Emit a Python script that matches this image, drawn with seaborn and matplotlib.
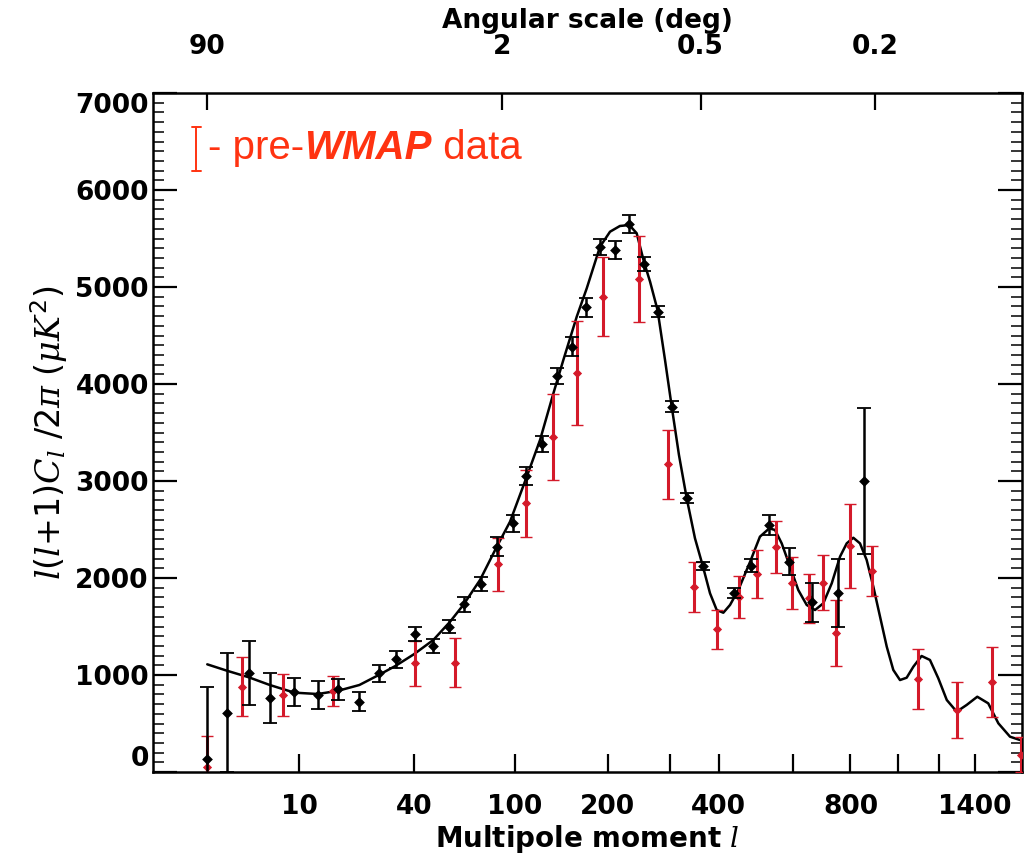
import numpy as np
import matplotlib
matplotlib.use("Agg")
import matplotlib.pyplot as plt
import seaborn as sns
from matplotlib.lines import Line2D
from matplotlib.ticker import MultipleLocator, NullLocator

# ---------------- data ----------------
# WMAP binned points
wmap_l = [2, 3, 4.5, 6.4, 9.35, 13, 16.9, 21.9, 27.5, 33.2, 40.3, 48.3, 56.3, 65,
          75.4, 86.7, 98.5, 109.6, 124.5, 139.5, 155.1, 171.5, 189.5, 210, 231,
          254.2, 277.4, 302.6, 331.5, 364.6, 436.4, 479.7, 529.6, 587.7, 660.5,
          752, 853.5]
wmap_v = [131, 611, 1017, 766, 828, 794, 852, 725, 1017, 1162, 1423, 1299, 1498, 1728,
          1938, 2323, 2564, 3052, 3378, 4082, 4385, 4790, 5415, 5381, 5649,
          5237, 4745, 3766, 2821, 2127, 1842, 2127, 2546, 2168, 1749,
          1842, 3000]
wmap_err = [750, 613, 330, 256, 146, 141, 107, 100, 90, 86, 74, 68, 69, 78,
            76, 97, 89, 89, 81, 80, 95, 95, 81, 90, 95,
            72, 59, 59, 52, 43, 52, 69, 100, 138, 203,
            352, 750]

# pre-WMAP points
pre_l = [2, 3.96, 7.93, 15.8, 40.3, 59.7, 87, 109.6, 134.7, 160.8, 193.9, 246.6,
         296.4, 347, 395.5, 448.8, 496.4, 548.8, 598, 652.5, 700, 747, 798,
         887.5, 1093, 1299, 1501, 1690]
pre_v = [52, 880, 794, 835, 1121, 1127, 2141, 2770, 3457, 4117, 4900, 5082,
         3172, 1910, 1471, 1807, 2041, 2316, 1952, 1790, 1952, 1430, 2330,
         2072, 959, 639, 931, 180]
pre_err = [320, 306, 215, 150, 230, 253, 276, 344, 443, 536, 409, 439,
           356, 258, 203, 215, 250, 268, 267, 255, 284, 340, 430,
           258, 310, 292, 361, 180]

# best-fit model curve
model_l = [2, 3, 4.5, 6.4, 9.35, 13, 17, 22, 27.5, 33, 40, 48.6, 57, 64.4, 74.7,
           86.3, 96.3, 110.2, 122.3, 135.4, 145.8, 160.8, 172.7, 189.5, 203, 217,
           231, 242.4, 254, 264.2, 277, 290.3, 302.6, 316.3, 331.5, 348.3, 364.6,
           380.5, 395.5, 410.8, 426.7, 447, 477.3, 503.5, 529.6, 546, 565.6, 590.8,
           616.6, 643.8, 671.6, 700, 730, 760.3, 785.5, 810.9, 837.3, 864.3, 892,
           920.4, 949.5, 978.6, 1009, 1040, 1072, 1112, 1154, 1197, 1242, 1296,
           1352, 1414, 1480, 1543, 1618, 1684]
model_v = [1110, 1044, 976, 897, 818, 804, 838, 897, 1000, 1093, 1213, 1361, 1549,
           1722, 1979, 2323, 2580, 3044, 3423, 3904, 4247, 4694, 4986, 5415, 5570,
           5629, 5639, 5554, 5261, 5055, 4763, 4247, 3766, 3268, 2821, 2409, 2127,
           1842, 1670, 1642, 1722, 1876, 2168, 2426, 2512, 2495, 2357, 2117, 1876,
           1722, 1670, 1739, 1945, 2220, 2357, 2415, 2357, 2186, 1910, 1601, 1292,
           1052, 948, 972, 1086, 1196, 1155, 966, 742, 622, 691, 776, 708, 502,
           364, 330]

bottom_ticks = [10, 40, 100, 200, 300, 400, 600, 800, 1000, 1200, 1400]
bottom_labels = ["10", "40", "100", "200", "", "400", "", "800", "", "", "1400"]
top_deg = [90, 2, 0.5, 0.2]
top_labels = ["90", "2", "0.5", "0.2"]
y_ticks = [0, 1000, 2000, 3000, 4000, 5000, 6000, 7000]

# ---------------- style ----------------
sns.set_theme(style="white")
plt.rcParams["font.family"] = ["DejaVu Sans"]
plt.rcParams["mathtext.fontset"] = "custom"
plt.rcParams["mathtext.rm"] = "DejaVu Sans"
plt.rcParams["mathtext.it"] = "DejaVu Serif:italic"
plt.rcParams["mathtext.bf"] = "DejaVu Sans:bold"
plt.rcParams["text.color"] = "black"
plt.rcParams["axes.labelcolor"] = "black"

RED = "#d41a2a"
LEG_RED = "#ff3311"

fig = plt.figure(figsize=(10.30, 8.57), dpi=100)
W, H = 1030, 857
ax = fig.add_axes([153 / W, 1 - 772 / H, (1022 - 153) / W, (772 - 93) / H])
ax.set_facecolor("white")

fwd = lambda x: np.power(np.clip(x, 1e-9, None), 0.25)
inv = lambda y: np.power(np.clip(y, 0, None), 4)

# model curve
sns.lineplot(x=model_l, y=model_v, ax=ax, color="black", lw=1.8, sort=False,
             estimator=None, zorder=2)
# pre-WMAP
ax.errorbar(pre_l, pre_v, yerr=pre_err, fmt="none", ecolor=RED, elinewidth=2.2,
            capsize=4, capthick=1.0, zorder=3)
sns.scatterplot(x=pre_l, y=pre_v, ax=ax, color=RED, marker="D", s=22,
                edgecolor=RED, linewidth=0, zorder=4)
# WMAP
ax.errorbar(wmap_l, wmap_v, yerr=wmap_err, fmt="none", ecolor="black",
            elinewidth=1.8, capsize=5, capthick=1.3, zorder=5)
sns.scatterplot(x=wmap_l, y=wmap_v, ax=ax, color="black", marker="D", s=30,
                edgecolor="black", linewidth=0, zorder=6)

ax.set_xscale("function", functions=(fwd, inv))
ax.set_xlim(0.5, 1698)
ax.set_ylim(0, 7000)

# top axis
ax2 = ax.twiny()
ax2.set_xscale("function", functions=(fwd, inv))
ax2.set_xlim(0.5, 1698)
ax2.set_xticks([180.0 / d for d in top_deg])
ax2.set_xticklabels(top_labels)
ax2.xaxis.set_minor_locator(NullLocator())
ax2.tick_params(axis="x", which="major", direction="in", length=12, width=1.6,
                pad=24, labelsize=19, colors="black")
for lab in ax2.get_xticklabels():
    lab.set_fontweight("bold")
ax2.set_xlabel("Angular scale (deg)", fontsize=19, fontweight="bold", labelpad=4,
               color="black")
for s in ax2.spines.values():
    s.set_visible(False)

# bottom axis
ax.set_xticks(bottom_ticks)
ax.set_xticklabels(bottom_labels)
ax.xaxis.set_minor_locator(NullLocator())
ax.tick_params(axis="x", which="major", direction="in", length=13, width=1.6,
               bottom=True, top=False, pad=16, labelsize=19, colors="black")
ax.set_yticks(y_ticks)
ax.set_yticklabels([str(v) for v in y_ticks])
ax.yaxis.set_minor_locator(MultipleLocator(100))
ax.tick_params(axis="y", which="major", direction="in", length=17, width=1.6,
               left=True, right=True, pad=3, labelsize=19, colors="black")
ax.tick_params(axis="y", which="minor", direction="in", length=8, width=1.3,
               left=True, right=True)
for lab in ax.get_xticklabels() + ax.get_yticklabels():
    lab.set_fontweight("bold")
ylabs = ax.get_yticklabels()
ylabs[0].set_va("bottom")
ylabs[-1].set_va("top")

for s in ax.spines.values():
    s.set_visible(True)
    s.set_color("black")
    s.set_linewidth(1.8)

ax.set_xlabel(r"Multipole moment $l$", fontsize=20, fontweight="bold", labelpad=2,
              color="black")
ax.set_ylabel(r"$l(l{+}1)C_l\ /2\pi\ (\mu K^2)$", fontsize=24, labelpad=4,
              color="black")

# legend key (pre-WMAP errorbar symbol)
xk = (196 - 153) / 869
y0, y1 = (772 - 171) / 679, (772 - 127) / 679
cw = 4.5 / 869
for xs, ys in [([xk, xk], [y0, y1]), ([xk - cw, xk + cw], [y0, y0]),
               ([xk - cw, xk + cw], [y1, y1])]:
    ax.add_line(Line2D(xs, ys, transform=ax.transAxes, color=LEG_RED, lw=1.4))

t1 = ax.text((208 - 153) / 869, (772 - 159) / 679, "- pre-", transform=ax.transAxes,
             fontsize=29, color=LEG_RED, family="Liberation Sans", va="baseline")
t2 = ax.annotate("WMAP", xy=(1, 0), xycoords=t1, va="bottom", ha="left",
                 fontsize=29, color=LEG_RED, family="Liberation Sans",
                 fontweight="bold", fontstyle="italic")
t3 = ax.annotate(" data", xy=(1, 0), xycoords=t2, va="bottom", ha="left",
                 fontsize=29, color=LEG_RED, family="Liberation Sans")

fig.savefig("out.png", dpi=100, facecolor="white")
